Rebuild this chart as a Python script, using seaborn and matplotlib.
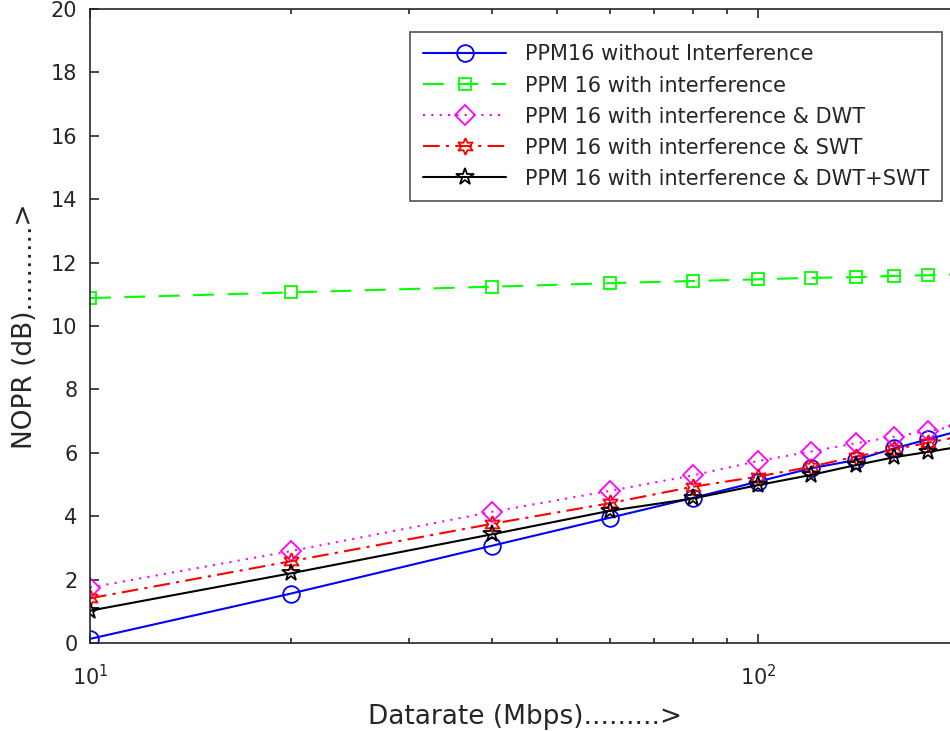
import numpy as np
import matplotlib
matplotlib.use('Agg')
import matplotlib.pyplot as plt
import seaborn as sns
from matplotlib.ticker import FixedLocator, FixedFormatter, NullFormatter, LogLocator

# Dados (Datarate em Mbps, NOPR em dB)
datarate = [10, 20, 40, 60, 80, 100, 120, 140, 160, 180, 200]
ppm16_sem_interf = [0.13, 1.56, 3.07, 3.95, 4.58, 5.09, 5.51, 5.77, 6.14, 6.43, 6.69]
ppm16_interf = [10.88, 11.06, 11.24, 11.35, 11.42, 11.47, 11.52, 11.54, 11.58, 11.60, 11.63]
ppm16_dwt = [1.75, 2.90, 4.14, 4.80, 5.29, 5.74, 6.04, 6.30, 6.51, 6.69, 6.86]
ppm16_swt = [1.41, 2.58, 3.76, 4.41, 4.93, 5.25, 5.56, 5.88, 6.11, 6.32, 6.51]
ppm16_dwt_swt = [1.02, 2.20, 3.43, 4.17, 4.56, 4.98, 5.30, 5.61, 5.86, 6.03, 6.19]

labels = ['PPM16 without Interference',
          'PPM 16 with interference',
          'PPM 16 with interference & DWT',
          'PPM 16 with interference & SWT',
          'PPM 16 with interference & DWT+SWT']
yticks = list(range(0, 21, 2))
xticks = [10, 100]
xtick_labels = ['$10^{1}$', '$10^{2}$']

# Estilo
sns.set_style('ticks')
plt.rcParams['font.family'] = ['DejaVu Sans']
plt.rcParams['mathtext.default'] = 'regular'
plt.rcParams['font.size'] = 15

fig = plt.figure(figsize=(9.5, 7.31), dpi=100)
# eixo ultrapassa a borda direita, como na figura original (cortada)
ax = fig.add_axes([90 / 950, 1 - 643 / 731, 869 / 950, 634 / 731])

series = [ppm16_sem_interf, ppm16_interf, ppm16_dwt, ppm16_swt, ppm16_dwt_swt]
cores = ['#0000FF', '#00FF00', '#FF00FF', '#FF0000', '#000000']
marcadores = ['o', 's', 'D', (6, 1, 0), '*']
estilos = ['-', (0, (10, 6.5)), (0, (1, 3)), (0, (8, 3, 1.5, 3)), '-']
tamanhos = [12, 9, 10, 12, 13]

for y, lab, c, m, ls, ms in zip(series, labels, cores, marcadores, estilos, tamanhos):
    sns.lineplot(x=datarate, y=y, ax=ax, color=c, marker=m, markersize=ms,
                 markerfacecolor='none', markeredgecolor=c, markeredgewidth=1.3,
                 linestyle=ls, linewidth=1.5, label=lab)

ax.set_xscale('log')
ax.set_xlim(10, 200)
ax.set_ylim(0, 20)
ax.xaxis.set_major_locator(FixedLocator(xticks))
ax.xaxis.set_major_formatter(FixedFormatter(xtick_labels))
ax.xaxis.set_minor_locator(LogLocator(base=10, subs=np.arange(2, 10)))
ax.xaxis.set_minor_formatter(NullFormatter())
ax.set_yticks(yticks)

for s in ax.spines.values():
    s.set_visible(True)
    s.set_color('#262626')
    s.set_linewidth(1.2)
ax.tick_params(which='both', direction='in', top=True, right=True,
               colors='#262626', labelcolor='#262626', labelsize=15)
ax.tick_params(which='major', length=6.5, width=1.2)
ax.tick_params(which='minor', length=3.5, width=1.2)
ax.tick_params(axis='x', which='major', pad=15)
ax.tick_params(axis='y', which='major', pad=9)

ax.set_xlabel('Datarate (Mbps).........>', fontsize=19, color='#262626', labelpad=11)
ax.set_ylabel('NOPR (dB)..........>', fontsize=19, color='#262626', labelpad=9)

leg = ax.legend(loc='upper right', bbox_to_anchor=(942 / 950, 1 - 32 / 731),
                bbox_transform=fig.transFigure, borderaxespad=0, frameon=True,
                fancybox=False, edgecolor='#262626', fontsize=15,
                handlelength=4.0, labelspacing=0.53, borderpad=0.6,
                handletextpad=0.9)
leg.get_frame().set_linewidth(1.2)

fig.savefig('out.png', dpi=100)
